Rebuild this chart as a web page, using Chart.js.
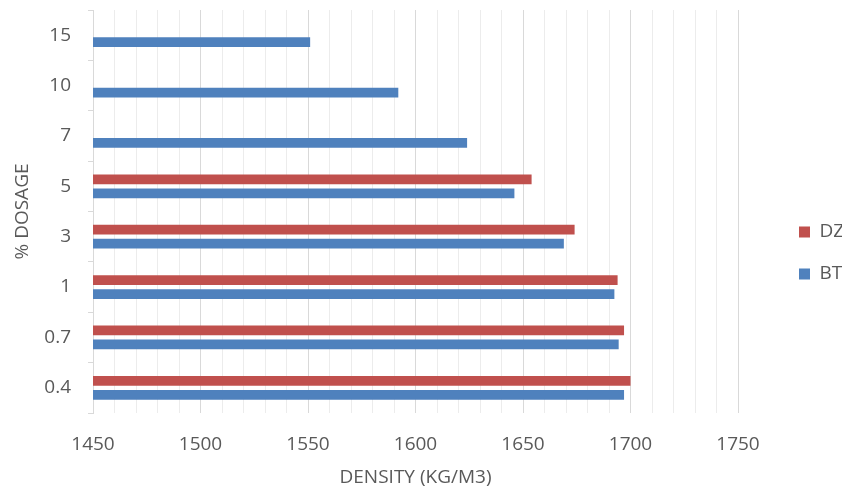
<!DOCTYPE html>
<html>
<head>
<meta charset="utf-8">
<script src="https://cdn.jsdelivr.net/npm/chart.js@4.4.1/dist/chart.umd.min.js"></script>
<style>
  html, body { margin: 0; padding: 0; background: #ffffff; }
  #wrap { width: 842px; height: 486px; }
</style>
</head>
<body>
<div id="wrap"><canvas id="c" width="842" height="486"></canvas></div>
<script>
// ---- data ----
const categories = ['0.4', '0.7', '1', '3', '5', '7', '10', '15'];
const seriesNames = ['DZ', 'BT'];
const dzValues = [1700, 1697, 1694, 1674, 1654, null, null, null];
const btValues = [1697, 1694.5, 1692.5, 1669, 1646, 1624, 1592, 1551];
const xMajorTicks = [1450, 1500, 1550, 1600, 1650, 1700, 1750];
const xAxisTitle = 'DENSITY (KG/M3)';
const yAxisTitle = '% DOSAGE';

const FONT = "'Open Sans', sans-serif";
const TEXT = '#595959';

const legendPlacer = {
  id: 'legendPlacer',
  beforeLayout(chart) {
    const lg = chart.legend;
    if (lg && !lg._patched) {
      const orig = lg.fit;
      lg.fit = function () { orig.call(this); this.width = 104; };
      lg._patched = true;
    }
  },
  afterLayout(chart) {
    const lg = chart.legend;
    if (!lg) return;
    const w = lg.width, h = lg.height;
    lg.left = 776; lg.right = lg.left + w;
    lg.top = 199.5; lg.bottom = lg.top + h;
  }
};

new Chart(document.getElementById('c'), {
  type: 'bar',
  data: {
    labels: categories,
    datasets: [
      { label: seriesNames[0], data: dzValues, backgroundColor: '#C0504D', borderWidth: 0 },
      { label: seriesNames[1], data: btValues, backgroundColor: '#4F81BD', borderWidth: 0 }
    ]
  },
  options: {
    indexAxis: 'y',
    responsive: false,
    animation: false,
    events: [],
    layout: { padding: { top: 10, left: 0, right: 0, bottom: 0 } },
    datasets: { bar: { categoryPercentage: 0.556, barPercentage: 0.69 } },
    scales: {
      x: {
        type: 'linear',
        min: 1450,
        max: 1750,
        afterFit(s) { s.height = 73; s.paddingTop = 0; s.paddingBottom = 0; },
        afterBuildTicks(s) {
          const t = [];
          for (let v = s.min; v <= s.max; v += 10) t.push({ value: v });
          s.ticks = t;
        },
        ticks: {
          autoSkip: false,
          maxRotation: 0,
          padding: 20,
          color: TEXT,
          font: { family: FONT, size: 19 },
          callback: (v) => (xMajorTicks.includes(v) ? String(v) : '')
        },
        grid: {
          drawTicks: false,
          color: (ctx) => (ctx.tick && xMajorTicks.includes(ctx.tick.value) ? '#d9d9d9' : '#ececec'),
          lineWidth: 1
        },
        border: { display: false },
        title: {
          display: true,
          text: xAxisTitle,
          color: TEXT,
          font: { family: FONT, size: 19, lineHeight: 0.85 },
          padding: { top: 0, bottom: 0 }
        }
      },
      y: {
        reverse: true,
        afterFit(s) { s.width = 93; s.paddingTop = 0; s.paddingBottom = 0; },
        ticks: {
          padding: 17,
          color: TEXT,
          font: { family: FONT, size: 19 }
        },
        grid: {
          offset: true,
          drawOnChartArea: false,
          drawTicks: true,
          tickLength: 5,
          color: '#d9d9d9'
        },
        border: { display: true, color: '#d9d9d9' },
        title: {
          display: true,
          text: yAxisTitle,
          color: TEXT,
          font: { family: FONT, size: 19, lineHeight: 1 },
          padding: { top: 13, bottom: 0 }
        }
      }
    },
    plugins: {
      legend: {
        position: 'right',
        align: 'start',
        labels: {
          boxWidth: 11,
          boxHeight: 11,
          padding: 23,
          color: TEXT,
          font: { family: FONT, size: 19 }
        }
      },
      tooltip: { enabled: false }
    }
  },
  plugins: [legendPlacer]
});
</script>
</body>
</html>
